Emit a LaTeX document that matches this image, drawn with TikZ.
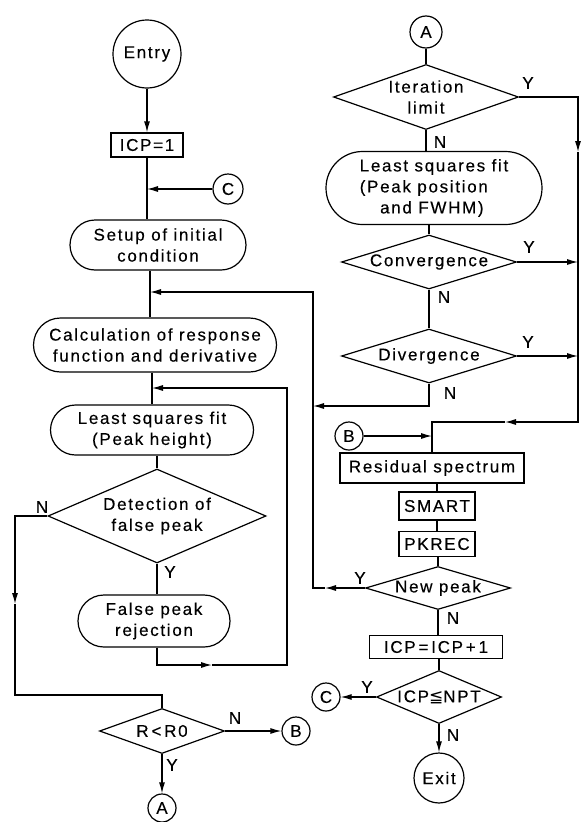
\documentclass[tikz,border=0pt]{standalone}
\usepackage{fontspec}
\setmainfont{Liberation Sans}[LetterSpace=10,FakeBold=0.3]
\newfontfamily\plainsans{Liberation Sans}[FakeBold=0.3]
\newfontfamily\symfont{DejaVu Sans}
\usetikzlibrary{shapes.geometric,shapes.misc,arrows.meta}
\tikzset{
  every node/.style={font=\fontsize{17}{21}\selectfont},
  conn/.style={draw, circle, inner sep=0pt},
  proc/.style={draw, rectangle, inner sep=1pt},
  rrect/.style={draw, rounded rectangle, inner sep=1pt, align=center},
  dec/.style={draw, diamond, inner sep=0pt, align=center},
  lab/.style={font=\plainsans\fontsize{17}{19}\selectfont, inner sep=0pt},
  >={Latex[length=11pt,width=6pt]}
}
\begin{document}
\begin{tikzpicture}[x=1pt,y=-1pt,line width=1.2pt]
\useasboundingbox (0,0) rectangle (581,822);
% left column
\node[conn, minimum size=68pt] (entry) at (147,54) {Entry};
\node[proc, minimum width=72pt, minimum height=24pt] (icp1) at (147,145) {ICP=1};
\node[rrect, minimum width=178pt, minimum height=50pt] (setup) at (158,245) {Setup of initial\\condition};
\node[rrect, minimum width=245pt, minimum height=54pt] (calc) at (155,345) {Calculation of response\\function and derivative};
\node[rrect, minimum width=205pt, minimum height=50pt] (lsq1) at (152,430) {Least squares fit\\(Peak height)};
\node[dec, minimum width=218pt, minimum height=94pt, aspect=2.3] (det) at (157,516) {Detection of\\false peak};
\node[rrect, minimum width=154pt, minimum height=52pt] (fpr) at (154,621) {False peak\\rejection};
\node[dec, minimum width=125pt, minimum height=45pt, aspect=2.8] (rr0) at (162,731) {R\,<\,R0};
\node[conn, minimum size=28pt] (Ab) at (162,808) {A};
\node[conn, minimum size=30pt] (Cl) at (228,189) {C};
\node[conn, minimum size=28pt] (Bl) at (296,731) {B};
% right column
\node[conn, minimum size=32pt] (At) at (426,32) {A};
\node[dec, minimum width=185pt, minimum height=65pt, aspect=2.85, inner sep=-2pt] (iter) at (426,97) {Iteration\\limit};
\node[rrect, minimum width=218pt, minimum height=73pt, align=left] (lsq2) at (434,188) {Least squares fit\\(Peak position\\\hspace*{1.2em}and FWHM)};
\node[dec, minimum width=175pt, minimum height=54pt, aspect=3.2, inner sep=-2pt] (conv) at (429,262) {Convergence};
\node[dec, minimum width=175pt, minimum height=54pt, aspect=3.2, inner sep=-2pt] (div) at (429,356) {Divergence};
\node[conn, minimum size=28pt] (Br) at (349,436) {B};
\node[proc, minimum width=184pt, minimum height=30pt] (resid) at (432,468) {Residual spectrum};
\node[proc, minimum width=76pt, minimum height=28pt] (smart) at (437,506) {SMART};
\node[proc, minimum width=76pt, minimum height=25pt] (pkrec) at (437,544) {PKREC};
\node[dec, minimum width=145pt, minimum height=43pt, aspect=3.4, inner sep=-3pt] (newp) at (438,588) {New peak};
\node[proc, minimum width=133pt, minimum height=23pt] (icpp1) at (436,647) {ICP\,=\,ICP\,+\,1};
\node[dec, minimum width=125pt, minimum height=53pt, aspect=2.4, inner sep=-5pt] (icple) at (439,697) {ICP{\symfont ≦}NPT};
\node[conn, minimum size=28pt] (Cr) at (326,697) {C};
\node[conn, minimum size=50pt] (exit) at (439,778) {Exit};
% coordinates
\coordinate (jc) at (147,189);
\coordinate (jn) at (150,292);
\coordinate (jf) at (152,388);
\coordinate (fr) at (287,665);
\coordinate (nl) at (15,695);
\coordinate (rb) at (578,422);
\coordinate (vl) at (313,406);
\coordinate (jb) at (432,436);
\coordinate (m1) at (15,604);
\coordinate (m2) at (212,665);
\coordinate (m3) at (578,152);
\coordinate (m4) at (505,422);
\coordinate (m5) at (325,588);
% left connectors
\draw[->] (entry) -- (icp1);
\draw (icp1.south) -- (icp1.south |- setup.north);
\draw[->] (Cl) -- (jc);
\draw (setup.south -| jn) -- (calc.north -| jn);
\draw (calc.south -| jf) -- (lsq1.north -| jf);
\draw (lsq1.south -| det.north) -- (det.north);
\draw (det.south) -- (fpr.north -| det.south);
\draw[->] (fpr.south -| det.south) |- (m2);
\draw[->] (m2) -- (fr) |- (jf);
\draw[->] (det.west) -| (m1);
\draw (m1) -- (nl) -| (rr0.north);
\draw[->] (rr0.east) -- (Bl);
\draw[->] (rr0.south) -- (Ab);
% right connectors
\draw (At) -- (iter.north);
\draw (iter.south) -- (iter.south |- lsq2.north);
\draw[->] (iter.east) -| (m3);
\draw[->] (m3) -- (rb) -- (m4);
\draw (m4) -| (resid.north);
\draw (lsq2.south -| conv.north) -- (conv.north);
\draw[->] (conv.east) -- (conv.east -| rb);
\draw (conv.south) -- (div.north);
\draw[->] (div.east) -- (div.east -| rb);
\draw[->] (div.south) |- (vl);
\draw[->] (Br) -- (jb);
\draw (resid.south -| smart.north) -- (smart.north);
\draw (smart) -- (pkrec);
\draw (pkrec.south) -- (pkrec.south -| newp.north) -- (newp.north);
\draw[->] (newp.west) -- (m5);
\draw[->] (m5) -| (vl) |- (jn);
\draw (newp.south) -- (newp.south |- icpp1.north);
\draw (icpp1.south -| icple.north) -- (icple.north);
\draw[->] (icple.west) -- (Cr);
\draw[->] (icple.south) -- (exit);
% labels
\node[lab] (t1) at (42,507) {N};
\node[lab] (t2) at (170,572) {Y};
\node[lab] (t3) at (235,718) {N};
\node[lab] (t4) at (172,765) {Y};
\node[lab] (t5) at (528,83) {Y};
\node[lab] (t6) at (440,142) {N};
\node[lab] (t7) at (529,247) {Y};
\node[lab] (t8) at (444,297) {N};
\node[lab] (t9) at (528,342) {Y};
\node[lab] (t10) at (450,393) {N};
\node[lab] (t11) at (360,578) {Y};
\node[lab] (t12) at (453,618) {N};
\node[lab] (t13) at (367,687) {Y};
\node[lab] (t14) at (453,735) {N};
\end{tikzpicture}
\end{document}
